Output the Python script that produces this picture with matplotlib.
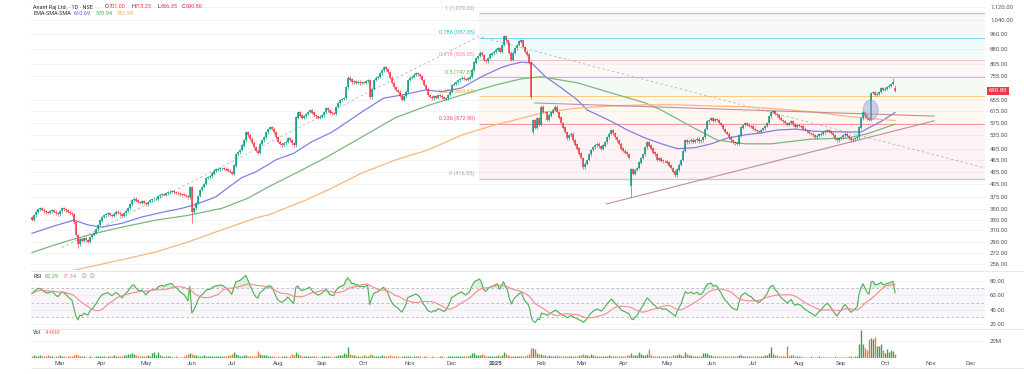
import numpy as np
import pandas as pd
import matplotlib
matplotlib.use('Agg')
import matplotlib.pyplot as plt
from matplotlib.patches import Ellipse
from matplotlib.lines import Line2D
from matplotlib.ticker import NullLocator

plt.rcParams['font.family'] = ['Roboto', 'DejaVu Sans']

#----------------------- data -----------------------
first_day = '2024-02-12'
last_axis_day = '2025-12-31'

# daily closes, one row = 20 trading days
closes = [
    330, 338, 345, 350, 352, 349, 346, 344, 343, 346, 348, 345, 342, 340, 346, 352, 350, 348, 345, 342,
    340, 325, 302, 286, 295, 292, 297, 293, 290, 298, 302, 306, 312, 320, 328, 335, 338, 340, 342, 339,
    337, 341, 345, 343, 340, 337, 342, 347, 352, 360, 369, 372, 368, 365, 364, 366, 363, 360, 365, 369,
    371, 372, 372, 377, 380, 382, 381, 384, 386, 387, 388, 386, 385, 384, 382, 381, 380, 378, 375, 398,
    345, 352, 363, 378, 391, 398, 405, 419, 421, 423, 430, 437, 440, 441, 443, 444, 442, 440, 437, 434,
    430, 450, 480, 486, 492, 505, 520, 546, 536, 525, 513, 500, 490, 485, 510, 521, 530, 545, 555, 560,
    556, 545, 530, 516, 510, 506, 512, 516, 527, 520, 512, 506, 593, 612, 600, 593, 598, 605, 612, 619,
    610, 601, 598, 593, 596, 601, 612, 626, 618, 610, 608, 606, 630, 643, 656, 660, 663, 705, 745, 738,
    727, 730, 725, 728, 722, 726, 724, 730, 736, 667, 700, 736, 745, 750, 764, 778, 791, 782, 770, 745,
    724, 705, 695, 688, 672, 656, 670, 688, 736, 745, 750, 758, 764, 760, 752, 736, 715, 700, 675, 668,
    663, 670, 665, 675, 672, 667, 660, 663, 675, 688, 715, 720, 727, 735, 740, 745, 740, 736, 742, 750,
    780, 813, 835, 845, 860, 850, 826, 819, 835, 852, 858, 865, 875, 883, 865, 900, 945, 925, 910, 860,
    826, 860, 883, 900, 918, 926, 890, 865, 852, 813, 667, 585, 560, 590, 569, 631, 612, 612, 585, 600,
    610, 620, 631, 612, 593, 575, 560, 546, 527, 535, 540, 521, 508, 496, 482, 470, 446, 455, 465, 480,
    492, 500, 506, 510, 503, 496, 505, 515, 530, 540, 552, 542, 530, 520, 510, 496, 490, 485, 480, 470,
    440, 430, 439, 444, 458, 470, 480, 500, 515, 505, 496, 485, 480, 465, 470, 463, 461, 462, 458, 450,
    444, 435, 426, 440, 452, 465, 490, 521, 515, 518, 522, 516, 521, 525, 518, 521, 530, 555, 580, 585,
    590, 582, 588, 585, 575, 568, 555, 546, 540, 530, 521, 515, 512, 510, 535, 560, 568, 575, 569, 565,
    563, 556, 552, 548, 546, 552, 557, 565, 575, 598, 612, 615, 605, 601, 592, 585, 580, 575, 569, 575,
    580, 570, 563, 567, 565, 563, 556, 552, 548, 543, 540, 536, 530, 534, 538, 540, 545, 549, 552, 548,
    543, 535, 527, 521, 526, 530, 536, 540, 534, 527, 521, 524, 527, 530, 560, 590, 612, 600, 590, 585,
    683, 687, 675, 680, 687, 703, 695, 700, 707, 712, 719, 727, 690.80,
]
open_gaps = {0: 335, 251: 545, 300: 400, 432: 701.00}
high_marks = {431: 745, 432: 713.25}
low_marks = {23: 280, 80: 324, 300: 376, 432: 686.35}

# volume in millions
volume_m = [
    2.5, 3.0, 2.0, 2.5, 3.5, 2.0, 1.8, 2.2, 3.0, 2.4, 2.0, 1.6, 1.8, 2.5, 3.2, 2.8, 2.0, 1.7, 1.9, 2.3,
    2.6, 3.8, 4.5, 3.2, 2.8, 2.2, 1.8, 1.5, 1.6, 2.0, 1.7, 1.4, 1.8, 2.1, 2.5, 2.9, 2.2, 1.6, 1.8, 2.0,
    2.7, 3.1, 2.4, 2.0, 1.8, 2.2, 3.0, 3.4, 4.2, 5.2, 5.5, 4.8, 3.6, 2.4, 2.0, 2.6, 1.8, 2.1, 3.2, 2.4,
    5.5, 7.2, 3.4, 6.8, 3.0, 2.5, 2.2, 2.8, 2.4, 1.8, 1.6, 1.5, 2.0, 1.7, 1.4, 1.6, 2.8, 3.5, 4.8, 5.4,
    4.6, 3.9, 3.2, 2.8, 2.5, 2.2, 3.0, 2.6, 2.4, 2.0, 2.8, 2.3, 1.9, 2.1, 2.6, 2.2, 1.8, 2.4, 3.1, 3.0,
    4.2, 7.2, 4.6, 3.2, 2.6, 2.2, 3.4, 3.0, 2.4, 2.1, 1.8, 2.0, 2.6, 8.2, 5.0, 3.6, 4.0, 3.2, 2.4, 2.8,
    2.2, 1.8, 1.7, 2.0, 1.6, 1.9, 2.2, 1.8, 1.6, 2.4, 4.5, 3.5, 7.4, 5.2, 3.3, 2.6, 2.2, 1.9, 2.4, 2.1,
    2.0, 1.8, 2.2, 1.7, 1.6, 2.1, 2.5, 2.9, 2.2, 1.8, 1.6, 2.3, 2.8, 3.6, 4.0, 3.1, 5.5, 4.8, 12.5, 5.2,
    4.0, 3.2, 2.6, 2.4, 2.1, 2.8, 3.4, 2.9, 2.2, 4.2, 3.0, 2.4, 2.1, 2.6, 2.8, 3.2, 2.9, 2.4, 2.2, 3.0,
    2.5, 2.2, 2.0, 1.8, 1.6, 2.4, 2.0, 2.6, 2.2, 1.9, 1.7, 2.1, 2.4, 2.0, 1.8, 1.6, 2.2, 1.9, 1.7, 1.5,
    1.8, 1.6, 1.4, 1.7, 2.0, 1.8, 1.5, 1.6, 1.9, 2.2, 2.6, 2.3, 2.0, 1.8, 2.4, 2.9, 2.2, 2.0, 2.6, 3.4,
    6.2, 5.8, 3.8, 3.2, 3.6, 5.2, 3.4, 2.8, 2.6, 2.4, 2.2, 2.0, 2.8, 3.1, 2.7, 3.6, 7.0, 4.2, 3.0, 2.4,
    2.2, 2.0, 1.8, 2.1, 2.4, 2.6, 2.2, 2.8, 3.2, 4.4, 11.2, 12.2, 10.4, 5.6, 4.6, 4.8, 3.6, 3.0, 2.6, 3.2,
    2.8, 2.4, 2.6, 3.2, 2.9, 2.6, 2.2, 2.0, 2.4, 2.2, 1.9, 2.1, 2.6, 2.8, 3.0, 3.4, 4.2, 3.6, 3.0, 2.8,
    4.4, 3.2, 2.6, 2.2, 2.0, 2.4, 2.1, 1.8, 2.6, 3.0, 2.5, 2.2, 1.9, 2.2, 2.4, 2.6, 2.3, 2.8, 3.0, 3.4,
    5.6, 3.8, 3.0, 3.4, 7.2, 4.4, 3.6, 4.0, 5.2, 10.0, 3.2, 2.8, 2.4, 2.6, 2.2, 2.0, 1.8, 2.4, 2.2, 2.5,
    2.8, 3.2, 4.0, 3.4, 4.6, 3.2, 2.8, 7.4, 4.2, 3.6, 3.0, 2.6, 2.4, 2.2, 2.0, 2.4, 5.8, 6.2, 6.0, 3.8,
    3.2, 2.8, 2.6, 2.4, 2.2, 2.6, 2.3, 2.0, 1.8, 2.2, 2.6, 2.4, 2.1, 2.3, 3.2, 3.6, 2.8, 2.4, 2.2, 2.0,
    1.8, 1.9, 2.2, 2.0, 1.8, 2.4, 2.6, 3.0, 3.8, 6.0, 13.2, 4.4, 3.2, 3.0, 2.6, 2.4, 2.2, 2.8, 14.2, 2.6,
    3.6, 3.0, 2.4, 2.2, 2.0, 1.8, 1.7, 1.6, 1.5, 1.7, 1.9, 1.6, 1.4, 1.5, 1.8, 1.6, 1.4, 1.5, 1.7, 1.3,
    1.4, 1.6, 1.8, 1.5, 1.3, 1.4, 1.7, 1.6, 1.4, 1.8, 2.0, 1.7, 1.9, 2.6, 16.0, 33.0, 16.0, 12.0, 9.0, 22.0,
    24.0, 22.0, 25.0, 14.0, 14.0, 17.0, 9.0, 6.0, 11.0, 7.0, 9.0, 8.0, 4.46,
]

# moving averages as read (trading-day index, price)
ema_idx = [0, 11, 21, 28, 35, 45, 55, 65, 75, 82, 92, 98, 105, 112, 119, 122, 131, 140, 150, 157,
           165, 176, 185, 197, 205, 215, 225, 235, 240, 245, 250, 257, 265, 273, 278, 290, 298, 307,
           315, 323, 332, 340, 348, 357, 365, 373, 382, 392, 408, 415, 420, 425, 432]
ema_val = [305, 318, 329, 320, 316, 323, 335, 344, 352, 360, 376, 396, 420, 434, 455, 465, 483, 516, 545, 575,
           612, 663, 675, 695, 688, 703, 750, 791, 805, 815, 812, 750, 703, 656, 619, 580, 552, 527,
           510, 496, 499, 510, 527, 537, 543, 552, 555, 548, 546, 546, 563, 580, 610.69]
sma_mid_idx = [0, 11, 21, 33, 45, 62, 78, 95, 108, 117, 132, 148, 165, 182, 198, 215, 232, 245, 255,
               273, 290, 307, 315, 330, 343, 357, 370, 390, 408, 418, 432]
sma_mid_val = [273, 285, 295, 306, 316, 329, 338, 352, 373, 395, 431, 474, 530, 593, 635, 675, 715, 741, 750,
               724, 683, 645, 619, 563, 521, 510, 510, 524, 527, 540, 570.94]
sma_long_idx = [0, 12, 23, 45, 62, 78, 95, 112, 119, 137, 148, 165, 182, 198, 215, 232, 240, 257, 273,
                290, 307, 323, 340, 357, 375, 392, 408, 432]
sma_long_val = [236, 242, 248, 262, 274, 290, 311, 333, 340, 369, 391, 431, 465, 492, 536, 569, 582, 612, 626,
                634, 638, 638, 634, 631, 622, 612, 597, 582.93]

# fibonacci drawing
fib_levels = [0, 0.236, 0.382, 0.5, 0.618, 0.786, 1]
fib_prices = [416.55, 572.90, 669.65, 747.85, 826.05, 937.35, 1079.20]
fib_colors = ['#9598a1', '#f23645', '#ff9800', '#4caf50', '#f77c80', '#00bcd4', '#9598a1']
fib_start = 223.5
fib_path_idx = [15, 223.5, 477]
fib_path_px = [281, 945, 444]

# triangle trendlines
tri_upper_idx = [251.5, 451.5]
tri_upper_px = [645, 598]
tri_lower_idx = [287.5, 451.5]
tri_lower_px = [361, 582]

price_ticks = [256, 272, 290, 310, 330, 350, 375, 405, 435, 465, 495, 535, 575, 615, 655,
               755, 805, 880, 960, 1040, 1120]
rsi_ticks = [20, 40, 60, 80]

#----------------------- derived ohlc + rsi -----------------------
n = len(closes)
x = np.arange(n)
c = np.array(closes, float)
o = np.r_[c[0], c[:-1]]
for k, v in open_gaps.items():
    o[k] = v
wick = 0.008
hi = np.maximum(o, c) * (1 + wick)
lo = np.minimum(o, c) * (1 - wick)
for k, v in high_marks.items():
    hi[k] = v
for k, v in low_marks.items():
    lo[k] = v
up = c >= o
UP, DN = '#089981', '#f23645'
cols = [UP if u else DN for u in up]

gain, loss = 5.0, 3.0   # seed so the line starts near where the chart shows it
rsi = []
for i in range(n):
    ch = c[i] - c[i - 1] if i else 0.0
    gain = (gain * 13 + max(ch, 0)) / 14
    loss = (loss * 13 + max(-ch, 0)) / 14
    rsi.append(100 - 100 / (1 + gain / loss))
rsi = np.array(rsi)
rsi_ma = pd.Series(rsi).rolling(14, min_periods=1).mean().values

cal = pd.bdate_range(first_day, last_axis_day)
month_pos, month_lab = [], []
for i in range(1, len(cal)):
    if cal[i].month != cal[i - 1].month:
        month_pos.append(i)
        month_lab.append('2025' if cal[i].month == 1 else cal[i].strftime('%b'))

#----------------------- figure -----------------------
W, H = 1024, 374
fig = plt.figure(figsize=(W / 100, H / 100), dpi=100)
fig.patch.set_facecolor('white')
X0, X1 = 31, 985


def pane(top, bottom):
    return fig.add_axes([X0 / W, 1 - bottom / H, (X1 - X0) / W, (bottom - top) / H])


ax = pane(2, 270)
ax_rsi = pane(272, 328)
ax_vol = pane(329, 358)
TXT = '#50535e'
FS = 4.3
LFS = 4.0
XMAX = 477
GRID = '#f2f3f6'

for a in (ax, ax_rsi, ax_vol):
    for s in a.spines.values():
        s.set_visible(False)
    a.set_facecolor('none')
    a.set_xlim(-0.5, XMAX)
    a.yaxis.tick_right()
    a.tick_params(axis='y', length=0, pad=3.6, labelsize=FS, labelcolor=TXT)
    a.tick_params(axis='x', length=0)
ax.set_xticks([])
ax_rsi.set_xticks([])

# main price pane
ax.set_yscale('log')
ax.set_ylim(247, 1152)
ax.yaxis.set_minor_locator(NullLocator())
ax.set_yticks(price_ticks)
ax.set_yticklabels([f'{t:,.2f}' for t in price_ticks])
for t in price_ticks:
    ax.axhline(t, color=GRID, lw=0.6, zorder=0)

for i in range(len(fib_prices) - 1):
    ax.fill_between([fib_start, XMAX], fib_prices[i], fib_prices[i + 1],
                    color=fib_colors[i + 1], alpha=0.06, lw=0, zorder=0)
for lv, p, col in zip(fib_levels, fib_prices, fib_colors):
    ax.hlines(p, fib_start, XMAX, color=col, lw=1.0 if lv in (0, 1) else 0.7,
              alpha=0.5, zorder=1)
    ax.text(fib_start - 2, p * 1.032, f'{lv:g} ({p:,.2f})', color=col, fontsize=LFS,
            ha='right', va='center', alpha=0.9, zorder=1)
ax.plot(fib_path_idx, fib_path_px, color='#b2b5be', lw=0.6, ls=(0, (3, 3)), zorder=1)

ax.plot(ema_idx, ema_val, color='#7f80e2', lw=0.9, zorder=2)
ax.plot(sma_mid_idx, sma_mid_val, color='#7bb77d', lw=0.9, zorder=2)
ax.plot(sma_long_idx, sma_long_val, color='#ffb47c', lw=0.9, zorder=2)

ax.plot(tri_upper_idx, tri_upper_px, color='#b67c95', lw=0.8, alpha=0.85, zorder=2)
ax.plot(tri_lower_idx, tri_lower_px, color='#b67c95', lw=0.8, alpha=0.85, zorder=2)

# candles: wick + body as vertical strokes (no pixel snapping of thin bars)
ax.vlines(x, lo, hi, colors=cols, lw=0.45, zorder=3)
ax.vlines(x, np.minimum(o, c), np.maximum(o, c) * 1.001, colors=cols, lw=1.1,
          capstyle='butt', zorder=3)

ax.add_patch(Ellipse((419.75, 620), 7.5, 71, facecolor='#9fa8da', edgecolor='#7986cb',
                     alpha=0.5, lw=0.6, zorder=4))

# rsi pane
ax_rsi.set_ylim(14.4, 92.6)
ax_rsi.set_yticks(rsi_ticks)
ax_rsi.set_yticklabels([f'{t:.2f}' for t in rsi_ticks])
for t in rsi_ticks:
    ax_rsi.axhline(t, color=GRID, lw=0.6, zorder=0)
ax_rsi.axhspan(30, 70, color='#7e57c2', alpha=0.05, lw=0)
for lvl in (30, 50, 70):
    ax_rsi.axhline(lvl, color='#9598a1', lw=0.6, ls=(0, (3, 3)), alpha=0.7)
ax_rsi.fill_between(x, rsi, 70, where=rsi > 70, interpolate=True, color='#4caf50', alpha=0.18, lw=0)
ax_rsi.plot(x, rsi, color='#4caf50', lw=0.8)
ax_rsi.plot(x, rsi_ma, color='#f48c8c', lw=0.8)

# volume pane
vcols = ['#3fa34d' if u else '#f57542' for u in up]
ax_vol.axhline(20, color=GRID, lw=0.6, zorder=0)
ax_vol.vlines(x, 0, volume_m, colors=vcols, lw=1.0, capstyle='butt')
ax_vol.set_ylim(0, 34.1)
ax_vol.set_yticks([20])
ax_vol.set_yticklabels(['20M'])
ax_vol.set_xticks(month_pos)
ax_vol.set_xticklabels(month_lab)
ax_vol.tick_params(axis='x', pad=2.2, labelsize=FS, labelcolor=TXT)
for t in ax_vol.get_xticklabels():
    if t.get_text() == '2025':
        t.set_fontweight('bold')

# pane separators
for py in (271, 328.5, 368):
    fig.add_artist(Line2D([X0 / W, 1], [1 - py / H] * 2, color='#e0e3eb', lw=0.6))


#----------------------- legends -----------------------
def ftxt(px, py, s, color, **kw):
    fig.text(px / W, 1 - py / H, s, color=color, fontsize=LFS, ha='left', va='center', **kw)


GRAY = '#787b86'
ftxt(33, 7, 'Anant Raj Ltd. · 1D · NSE', '#2a2e39')
for letter, val, px in [('O', '701.00', 105), ('H', '713.25', 131),
                        ('L', '686.35', 157), ('C', '690.80', 182)]:
    ftxt(px, 7, letter, '#2a2e39')
    ftxt(px + 3.6, 7, val, DN)
ftxt(33, 13.5, 'EMA-SMA-SMA', '#2a2e39')
ftxt(74, 13.5, '610.69', '#5b5fe0')
ftxt(96, 13.5, '570.94', '#4caf50')
ftxt(117, 13.5, '582.93', '#ffa25a')

ftxt(33, 276, 'RSI', '#2a2e39')
ftxt(45, 276, '62.29', '#4caf50')
ftxt(63, 276, '71.34', '#f77c80')
ftxt(82, 276, '∅', GRAY)
ftxt(90, 276, '∅', GRAY)

ftxt(33, 332, 'Vol', '#2a2e39')
ftxt(45, 332, '4.46M', '#f57542')

fig.text(989 / W, 1 - 91 / H, '690.80', color='white', fontsize=FS, ha='left', va='center',
         bbox=dict(boxstyle='square,pad=0.3', fc='#f23645', ec='none'))

fig.savefig('out.png', dpi=100)
